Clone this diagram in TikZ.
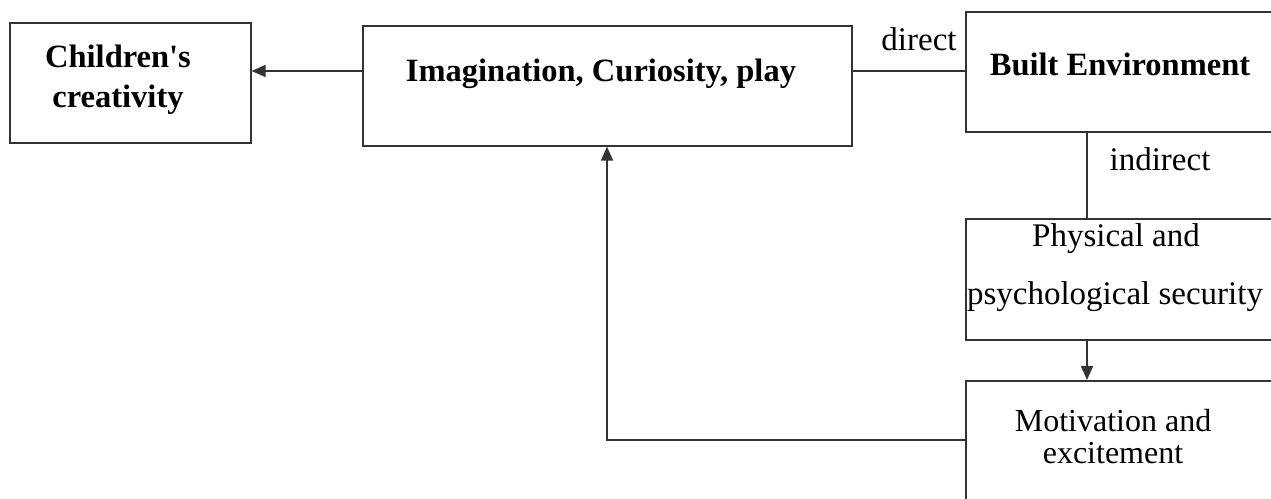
\documentclass[tikz,border=0pt]{standalone}
\usepackage{fontspec}
\setmainfont{Liberation Serif}
\usetikzlibrary{arrows.meta}
\definecolor{linec}{HTML}{333333}
\begin{document}
\begin{tikzpicture}[x=1pt,y=1pt,
  box/.style={draw=linec, line width=1.6pt, inner sep=0pt, anchor=north west},
  bold/.style={font=\fontsize{32.5}{38}\selectfont\bfseries, inner sep=0pt, align=center},
  plain/.style={font=\fontsize{33}{38}\selectfont, inner sep=0pt, align=center},
  link/.style={draw=linec, line width=1.6pt},
  arr/.style={link, -{Triangle[length=14pt,width=12pt]}}]
\useasboundingbox (0,0) rectangle (1271,498);
\clip (0,0) rectangle (1271,498);
\fill[white] (0,0) rectangle (1271,498);

% boxes
\node[box, minimum width=241pt, minimum height=120pt] (cc) at (9,476) {};
\node[box, minimum width=489pt, minimum height=120pt] (icp) at (362,473) {};
\node[box, minimum width=330pt, minimum height=120pt] (be) at (965,487) {};
\node[box, minimum width=330pt, minimum height=121pt] (pps) at (965,280) {};
\node[box, minimum width=330pt, minimum height=140pt] (me) at (965,118) {};

% box texts
\node[bold] (cc1) at (118,442) {Children\textquotesingle s};
\node[bold] (cc2) at (118,398) {creativity};
\node[bold] (icpt) at (601,424) {Imagination, Curiosity, play};
\node[bold] (bet) at (1120,434) {Built Environment};
\node[plain] (pps1) at (1116,259) {Physical and};
\node[plain] (pps2) at (1115,201) {psychological security};
\node[plain, font=\fontsize{32}{32}\selectfont] (met) at (1113,61) {Motivation and\\excitement};

% connector labels
\node[plain] (dl) at (919,459) {direct};
\node[plain] (il) at (1160,339) {indirect};

% connectors
\coordinate (fb) at (607,58);
\draw[arr] (icp.west |- 0,427) -- (cc.east |- 0,427);
\draw[link] (icp.east |- 0,427) -- (be.west |- 0,427);
\draw[link] (be.south -| 1087,0) -- (pps.north -| 1087,0);
\draw[arr] (pps.south -| 1087,0) -- (me.north -| 1087,0);
\draw[arr] (me.west |- fb) -- (fb) -- (icp.south -| fb);
\end{tikzpicture}
\end{document}
